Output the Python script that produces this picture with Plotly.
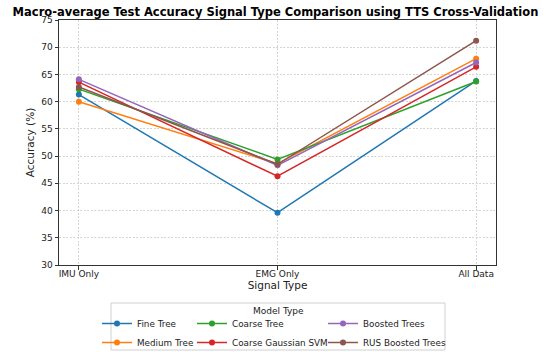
import plotly.graph_objects as go

categories = ["IMU Only", "EMG Only", "All Data"]
models = ["Fine Tree", "Medium Tree", "Coarse Tree", "Coarse Gaussian SVM", "Boosted Trees", "RUS Boosted Trees"]
fine_tree = [61.3, 39.6, 63.8]
medium_tree = [60.0, 48.6, 67.9]
coarse_tree = [62.3, 49.4, 63.7]
coarse_gaussian_svm = [63.6, 46.3, 66.4]
boosted_trees = [64.1, 48.3, 67.2]
rus_boosted_trees = [62.7, 48.5, 71.2]
series = [fine_tree, medium_tree, coarse_tree, coarse_gaussian_svm, boosted_trees, rus_boosted_trees]
colors = ["#1f77b4", "#ff7f0e", "#2ca02c", "#d62728", "#9467bd", "#8c564b"]
legend_ids = ["legend", "legend", "legend2", "legend2", "legend3", "legend3"]

W, H = 550, 352
# plot area in pixels
L, R, T, B = 59, 496, 20, 265
PW, PH = R - L, B - T


def px(xp):
    return (xp - L) / PW


def py(yp):
    return (B - yp) / PH


fig = go.Figure()
for name, vals, col, lg in zip(models, series, colors, legend_ids):
    fig.add_trace(go.Scatter(
        x=categories, y=vals, mode="lines+markers", name=name,
        line=dict(color=col, width=1.5), marker=dict(color=col, size=6),
        legend=lg,
    ))

font = dict(family="DejaVu Sans", color="#222222")
leg_common = dict(orientation="v", xref="paper", yref="paper", xanchor="left", yanchor="top",
                  bgcolor="rgba(0,0,0,0)", font=dict(family="DejaVu Sans", size=8.8, color="#222222"),
                  itemwidth=30, tracegroupgap=0)
fig.update_layout(
    width=W, height=H,
    margin=dict(l=L, r=W - R, t=T, b=H - B, autoexpand=False),
    paper_bgcolor="white", plot_bgcolor="white",
    font=font,
    title=dict(text="<b>Macro-average Test Accuracy Signal Type Comparison using TTS Cross-Validation</b>",
               x=275.5 / W, xanchor="center", y=1 - 12 / H, yanchor="middle",
               font=dict(family="DejaVu Sans", size=11.5, color="black")),
    xaxis=dict(type="category", range=[-0.1, 2.1], showline=True, mirror=True, linecolor="#333333", linewidth=1,
               ticks="outside", ticklen=3.5, tickcolor="#333333", tickfont=dict(size=9), ticklabelstandoff=-3,
               showgrid=True, gridcolor="#d4d4d4", griddash="2px,1.5px", gridwidth=1,
               title=dict(text="Signal Type", font=dict(size=10.5), standoff=3)),
    yaxis=dict(range=[30, 75], dtick=5, showline=True, mirror=True, linecolor="#333333", linewidth=1,
               ticks="outside", ticklen=3.5, tickcolor="#333333", tickfont=dict(size=9),
               showgrid=True, gridcolor="#d4d4d4", griddash="2px,1.5px", gridwidth=1, zeroline=False,
               title=dict(text="Accuracy (%)", font=dict(size=10.5), standoff=4)),
    legend=dict(x=px(97), y=py(309), **leg_common),
    legend2=dict(x=px(192), y=py(309), **leg_common),
    legend3=dict(x=px(323), y=py(309), **leg_common),
    shapes=[dict(type="rect", xref="paper", yref="paper",
                 x0=px(111), x1=px(445), y0=py(350), y1=py(303),
                 line=dict(color="#d0d0d0", width=1), fillcolor="rgba(0,0,0,0)", layer="above")],
    annotations=[dict(text="Model Type", xref="paper", yref="paper", x=px(278),
                      y=py(311), xanchor="center", yanchor="middle", showarrow=False,
                      font=dict(family="DejaVu Sans", size=9, color="#222222"))],
)
fig.write_html("out.html", config={"displayModeBar": False},
               post_script="document.body.style.margin='0px';document.body.style.overflow='hidden';")
